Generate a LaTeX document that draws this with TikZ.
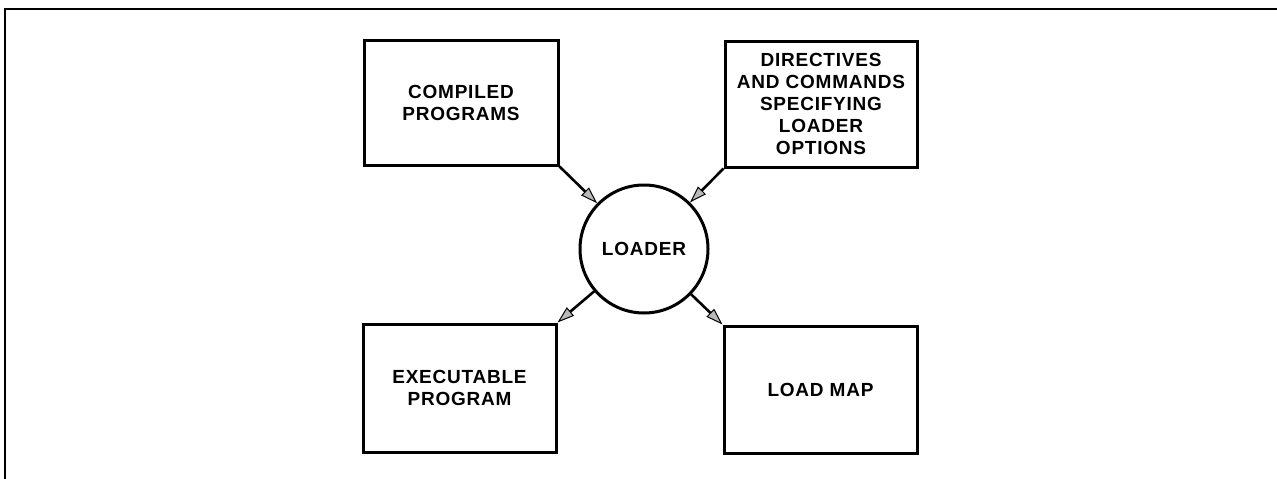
\documentclass[tikz,border=0pt]{standalone}
\usepackage{fontspec}
\newfontfamily\labelfont{Liberation Sans}[LetterSpace=4]
\usetikzlibrary{arrows.meta}
\begin{document}
\begin{tikzpicture}[x=1pt,y=-1pt,
  txt/.style={font=\labelfont\bfseries\fontsize{19}{22}\selectfont, align=center, text=black},
  box/.style={txt, draw, line width=3pt, rectangle, inner sep=0pt},
  hub/.style={txt, draw, line width=3pt, circle, minimum size=128pt, inner sep=0pt},
  flow/.style={line width=2.6pt, -{Triangle[length=17pt,width=11pt,fill=gray!55,line width=1pt]}}
]
\useasboundingbox (0,0) rectangle (1277,479);

% open frame: top and left edges only
\draw[line width=2pt] (5,479) -- (5,9) -- (1277,9);

\node[box, minimum width=194pt, minimum height=125pt] (cp) at (461,102.5) {COMPILED\\PROGRAMS};
\node[box, minimum width=192pt, minimum height=126pt] (dir) at (821,104) {DIRECTIVES\\AND COMMANDS\\SPECIFYING\\LOADER\\OPTIONS};
\node[hub] (ld) at (644,249) {LOADER};
\node[box, minimum width=193pt, minimum height=128pt] (ex) at (459.5,388) {EXECUTABLE\\PROGRAM};
\node[box, minimum width=193pt, minimum height=127pt] (lm) at (820.5,389.5) {LOAD MAP};

\draw[flow] (cp.south east) -- (ld);
\draw[flow] (dir.south west) -- (ld);
\draw[flow] (ld) -- (ex.north east);
\draw[flow] (ld) -- (lm.north west);
\end{tikzpicture}
\end{document}
